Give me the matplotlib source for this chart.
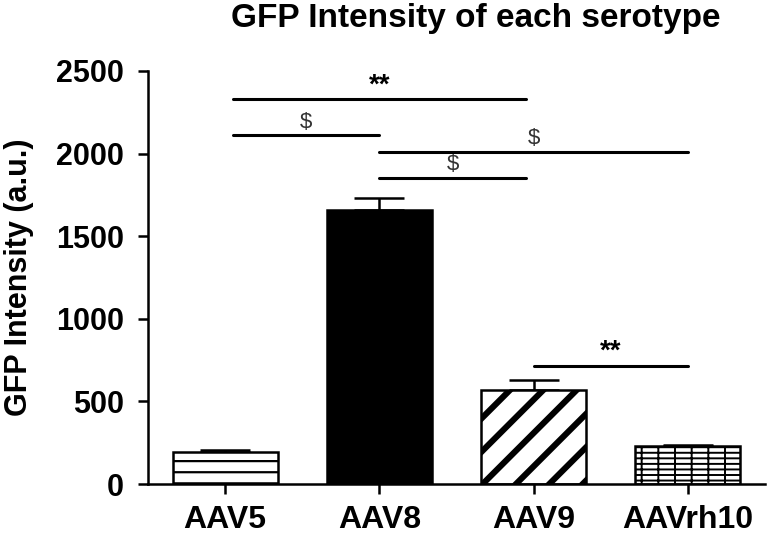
import matplotlib
matplotlib.use("Agg")
import matplotlib.pyplot as plt
import numpy as np

# data
serotypes = ["AAV5", "AAV8", "AAV9", "AAVrh10"]
intensity = [195, 1660, 570, 230]
sem = [8, 70, 60, 8]
hatches = ["---", None, "//", "------||"]
hatch_lw = [0.8, 0.8, 2.2, 0.7]
faces = ["white", "black", "white", "white"]

# significance brackets: (x start, x end, y, label)
sig_x0 = [0.05, 0.05, 1.0, 1.0, 2.0]
sig_x1 = [1.95, 1.0, 3.0, 1.95, 3.0]
sig_y = [2330, 2110, 2010, 1855, 715]
sig_txt = ["**", "$", "$", "$", "**"]

plt.rcParams['font.family'] = ['Liberation Sans', 'DejaVu Sans']
plt.rcParams['font.weight'] = 'bold'
plt.rcParams['hatch.linewidth'] = 0.8

DPI = 200
fig = plt.figure(figsize=(768 / DPI, 535 / DPI), dpi=DPI)
ax = fig.add_axes([0.1927, 0.0953, 0.8033, 0.772])

x = np.arange(len(serotypes))
for i in range(len(serotypes)):
    plt.rcParams['hatch.linewidth'] = hatch_lw[i]
    bars = ax.bar(x[i], intensity[i], width=0.68, color=faces[i], edgecolor="black",
                  linewidth=0.9, hatch=hatches[i], zorder=2)
    for p in bars:
        try:
            p.set_hatch_linewidth(hatch_lw[i])
        except AttributeError:
            pass
ax.errorbar(x, intensity, yerr=[np.zeros(len(sem)), sem], fmt="none",
            ecolor="black", elinewidth=0.9, capsize=9, capthick=0.9, zorder=1)

for a, b, y, t in zip(sig_x0, sig_x1, sig_y, sig_txt):
    ax.plot([a, b], [y, y], color="black", lw=1.1, solid_capstyle="round")
    if t == "$":
        ax.text((a + b) / 2, y + 15, t, ha="center", va="bottom",
                fontsize=8, fontweight="normal", color="#333333")
    else:
        ax.text((a + b) / 2, y + 5, t, ha="center", va="bottom",
                fontsize=10, color="black")

ax.set_xlim(-0.5, 3.5)
ax.set_ylim(0, 2500)
ax.set_yticks([0, 500, 1000, 1500, 2000, 2500])
ax.set_xticks(x)
ax.set_xticklabels(serotypes)
ax.spines["top"].set_visible(False)
ax.spines["right"].set_visible(False)
for s in ["left", "bottom"]:
    ax.spines[s].set_linewidth(0.9)
ax.tick_params(axis="y", width=0.9, length=3.6, labelsize=11, pad=5)
ax.tick_params(axis="x", width=0.9, length=3.6, labelsize=11.5, pad=4)
ax.set_ylabel("GFP Intensity (a.u.)", fontsize=11, fontweight="bold", labelpad=8)
fig.text(0.62, 0.966, "GFP Intensity of each serotype", fontsize=12,
         fontweight="bold", ha="center", va="center")

fig.savefig("out.png", dpi=DPI)
